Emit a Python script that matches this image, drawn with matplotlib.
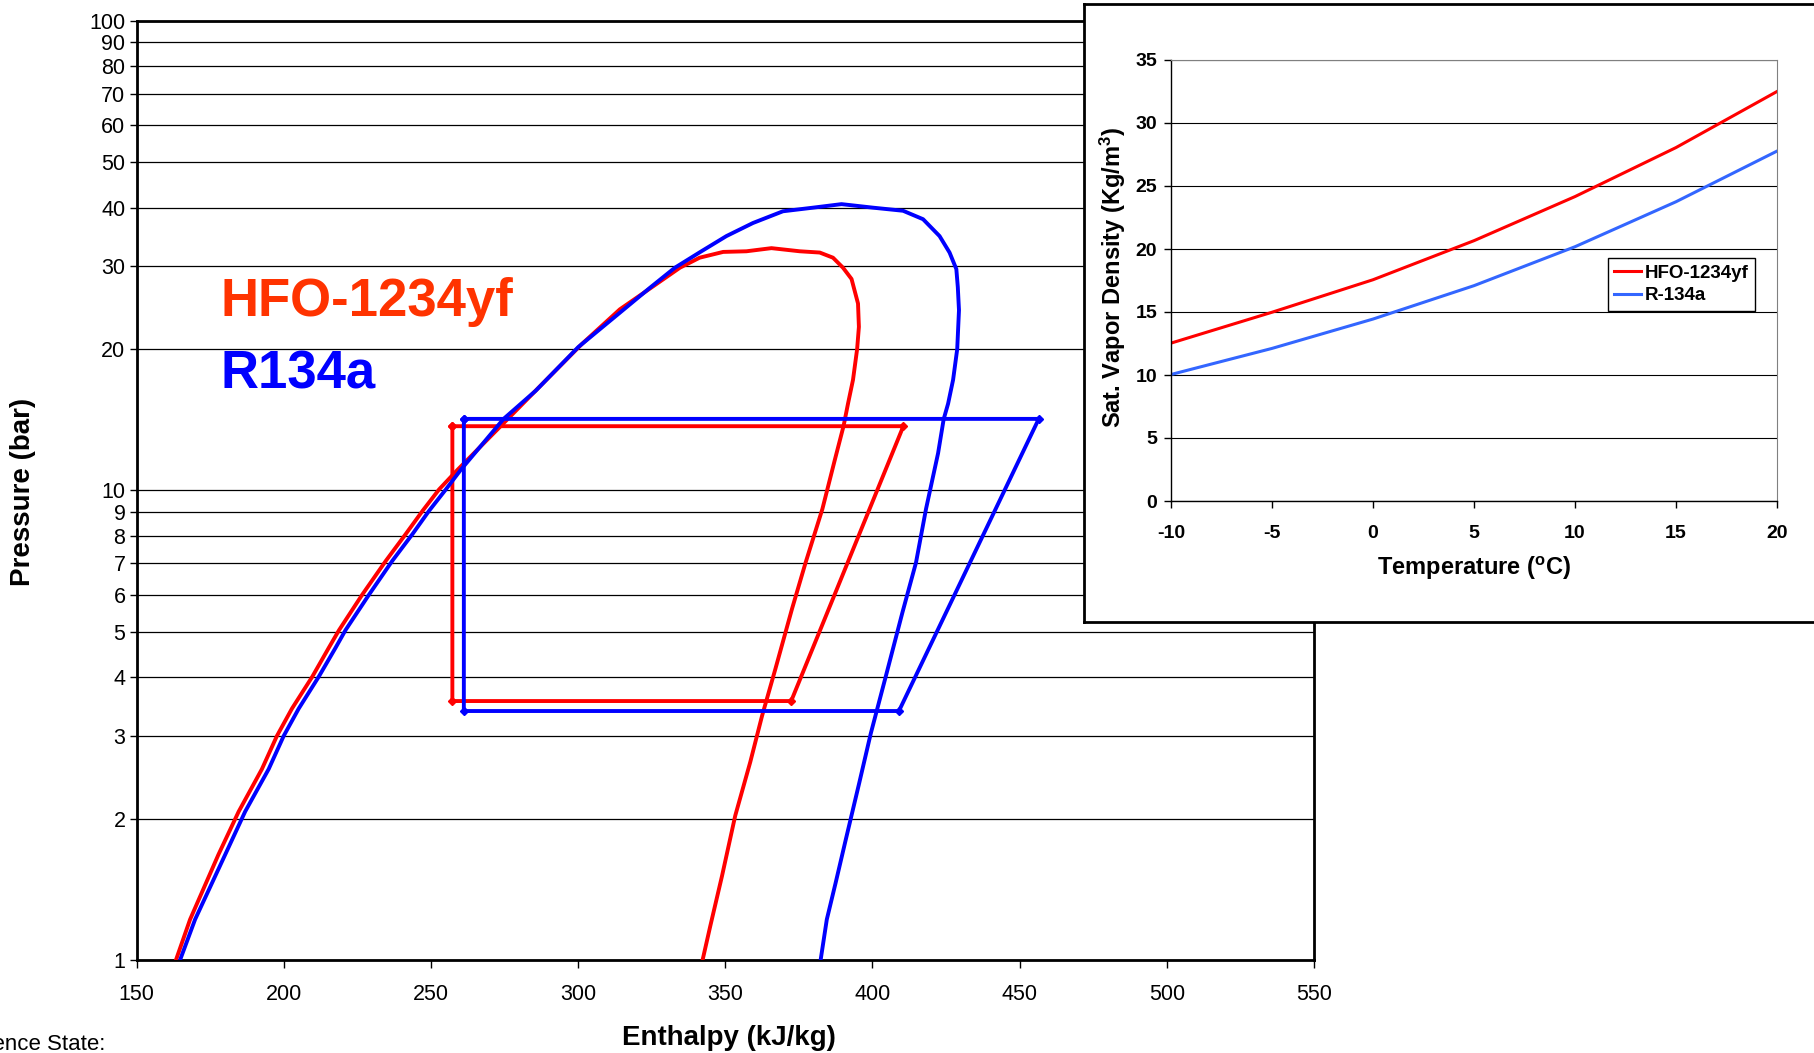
import matplotlib
matplotlib.use("Agg")
import matplotlib.pyplot as plt
from matplotlib.ticker import FixedLocator, NullLocator

plt.rcParams['font.family'] = ['Liberation Sans', 'DejaVu Sans']
plt.rcParams['mathtext.fontset'] = 'custom'
plt.rcParams['mathtext.rm'] = 'Liberation Sans'
plt.rcParams['mathtext.bf'] = 'Liberation Sans:bold'
plt.rcParams['mathtext.it'] = 'Liberation Sans:italic'
plt.rcParams['axes.unicode_minus'] = False

# saturation dome (h in kJ/kg, P in bar)
h_dome_hfo = [163.4, 168.2, 177.8, 184.7, 192.6, 197.7, 202.8, 209.7, 215.3, 218.8, 226.7,
              234.7, 241.5, 247.2, 252.8, 259.1, 273.5, 286.8, 301.3, 314.2, 325.5, 334.6,
              341.3, 349.3, 357.2, 365.7, 375.3, 382.1, 386.6, 390.0, 392.9, 395.1, 395.4,
              394.8, 393.4, 391.7, 390.2, 387.2, 383.0, 377.3, 372.7, 367.0, 362.5, 358.5,
              353.4, 348.9, 344.9, 342.3]
p_dome_hfo = [1.0, 1.22, 1.675, 2.07, 2.55, 3.0, 3.43, 4.01, 4.62, 5.04, 6.0,
              7.08, 8.08, 9.05, 10.05, 11.07, 13.66, 16.6, 20.5, 24.3, 27.2, 29.8,
              31.3, 32.2, 32.3, 32.8, 32.3, 32.1, 31.3, 29.8, 28.2, 25.0, 22.3,
              20.0, 17.2, 15.3, 13.72, 11.6, 9.13, 7.02, 5.6, 4.16, 3.31, 2.64,
              2.03, 1.51, 1.18, 1.0]

h_dome_r134a = [164.8, 169.9, 180.1, 186.9, 194.9, 200.0, 205.1, 211.9, 217.6, 221.0, 229.0,
                236.9, 243.8, 249.4, 255.1, 260.2, 274.7, 285.6, 300.1, 314.2, 324.4, 332.9,
                341.9, 350.4, 359.4, 369.6, 379.8, 389.5, 400.2, 410.4, 417.2, 422.8, 426.2,
                428.5, 429.0, 429.4, 428.8, 427.4, 425.7, 424.2, 422.3, 418.2, 414.8, 410.2,
                404.5, 399.4, 395.5, 390.9, 387.5, 384.5, 382.4]
p_dome_r134a = [1.0, 1.22, 1.675, 2.07, 2.55, 3.0, 3.43, 4.01, 4.62, 5.04, 6.0,
                7.08, 8.08, 9.05, 10.05, 11.07, 14.2, 16.3, 20.2, 23.9, 27.0, 29.8,
                32.3, 34.8, 37.1, 39.3, 40.0, 40.7, 40.0, 39.4, 37.8, 34.8, 32.1,
                29.6, 27.1, 24.2, 20.0, 17.2, 15.3, 14.18, 12.0, 9.13, 7.02, 5.5,
                4.01, 3.03, 2.38, 1.80, 1.46, 1.22, 1.0]

# refrigeration cycles
h_cycle_hfo = [257.3, 410.5, 372.4, 257.3, 257.3]
p_cycle_hfo = [13.7, 13.7, 3.56, 3.56, 13.7]
h_cycle_r134a = [261.2, 456.5, 409.0, 261.2, 261.2]
p_cycle_r134a = [14.2, 14.2, 3.39, 3.39, 14.2]

p_ticks = [1, 2, 3, 4, 5, 6, 7, 8, 9, 10, 20, 30, 40, 50, 60, 70, 80, 90, 100]
h_ticks = [150, 200, 250, 300, 350, 400, 450, 500, 550]

# inset: saturated vapour density
temp_c = [-10, -5, 0, 5, 10, 15, 20]
rho_hfo = [12.53, 14.98, 17.56, 20.66, 24.16, 28.05, 32.5]
rho_r134a = [10.04, 12.11, 14.44, 17.09, 20.18, 23.75, 27.77]

W, H = 1814, 1053
fig = plt.figure(figsize=(W / 100, H / 100), dpi=100)

ax = fig.add_axes([136.5 / W, 1 - 960 / H, (1314 - 136.5) / W, (960 - 20.8) / H])
ax.set_yscale('log')
ax.set_xlim(150, 550)
ax.set_ylim(1, 100)
ax.yaxis.set_major_locator(FixedLocator(p_ticks))
ax.yaxis.set_minor_locator(NullLocator())
ax.set_yticklabels([str(p) for p in p_ticks])
ax.set_xticks(h_ticks)
ax.tick_params(axis='y', direction='out', length=5, width=1, labelsize=15.5, pad=3)
ax.tick_params(axis='x', direction='out', length=5.5, width=1, labelsize=15.5, pad=12)
ax.grid(axis='y', color='black', lw=0.9)
ax.set_axisbelow(True)
for s in ax.spines.values():
    s.set_linewidth(2.0)

ax.plot(h_dome_hfo, p_dome_hfo, color='#FF0000', lw=2.8, zorder=3)
ax.plot(h_cycle_hfo, p_cycle_hfo, color='#FF0000', lw=2.8, marker='D', ms=4, zorder=3)
ax.plot(h_dome_r134a, p_dome_r134a, color='#0000FF', lw=2.8, zorder=4)
ax.plot(h_cycle_r134a, p_cycle_r134a, color='#0000FF', lw=2.8, marker='D', ms=4, zorder=4)

ax.text(178.7, 23.5, 'HFO-1234yf', color='#FF3300', fontsize=38, fontweight='bold', va='baseline')
ax.text(178.7, 16.5, 'R134a', color='#0000FF', fontsize=38, fontweight='bold', va='baseline')

ax.set_xlabel('Enthalpy (kJ/kg)', fontsize=20, fontweight='bold')
ax.xaxis.set_label_coords(0.503, -0.083)
ax.xaxis.label.set_va('center')
ax.set_ylabel('Pressure (bar)', fontsize=20, fontweight='bold')
ax.yaxis.set_label_coords(-0.0963, 0.498)
ax.yaxis.label.set_va('center')

fig.text(105 / W, 1 - 1045 / H, 'Reference State:', fontsize=16, ha='right', va='center')

# white frame behind the inset
frame = fig.add_axes([1084 / W, 1 - 622 / H, 0.45, (622 - 4) / H])
frame.set_xticks([])
frame.set_yticks([])
frame.set_facecolor('white')
for s in frame.spines.values():
    s.set_linewidth(2.0)
    s.set_color('black')

ins = fig.add_axes([1171 / W, 1 - 501 / H, 606 / W, 441 / H])
ins.plot(temp_c, rho_hfo, color='#FF0000', lw=2.2, label='HFO-1234yf')
ins.plot(temp_c, rho_r134a, color='#3366FF', lw=2.2, label='R-134a')
ins.set_xlim(-10, 20)
ins.set_ylim(0, 35)
ins.set_xticks(range(-10, 21, 5))
ins.set_yticks(range(0, 36, 5))
ins.grid(axis='y', color='black', lw=0.8)
ins.set_axisbelow(True)
ins.tick_params(axis='y', direction='out', length=5, width=1, labelsize=14, pad=5)
ins.tick_params(axis='x', direction='out', length=5, width=1, labelsize=14, pad=12)
for lab in ins.get_xticklabels() + ins.get_yticklabels():
    lab.set_fontweight('bold')
ins.spines['top'].set_color('#808080')
ins.spines['right'].set_color('#808080')
ins.spines['top'].set_linewidth(0.8)
ins.spines['right'].set_linewidth(0.8)
ins.spines['left'].set_linewidth(1.0)
ins.spines['bottom'].set_linewidth(1.0)
ins.set_xlabel(r'Temperature ($^{\mathbf{o}}$C)', fontsize=17, fontweight='bold')
ins.xaxis.set_label_coords(0.5, -0.152)
ins.xaxis.label.set_va('center')
ins.set_ylabel(r'Sat. Vapor Density (Kg/m$^{\mathbf{3}}$)', fontsize=17, fontweight='bold')
ins.yaxis.set_label_coords(-0.0957, 0.506)
ins.yaxis.label.set_va('center')

leg = ins.legend(loc='upper left', bbox_to_anchor=(0.721, 0.551), fancybox=False,
                 framealpha=1, edgecolor='black', handlelength=1.4, handletextpad=0.2,
                 borderpad=0.35, labelspacing=0.3, borderaxespad=0,
                 prop={'weight': 'bold', 'size': 13.5})
leg.get_frame().set_linewidth(1.0)

fig.savefig('out.png', dpi=100)
